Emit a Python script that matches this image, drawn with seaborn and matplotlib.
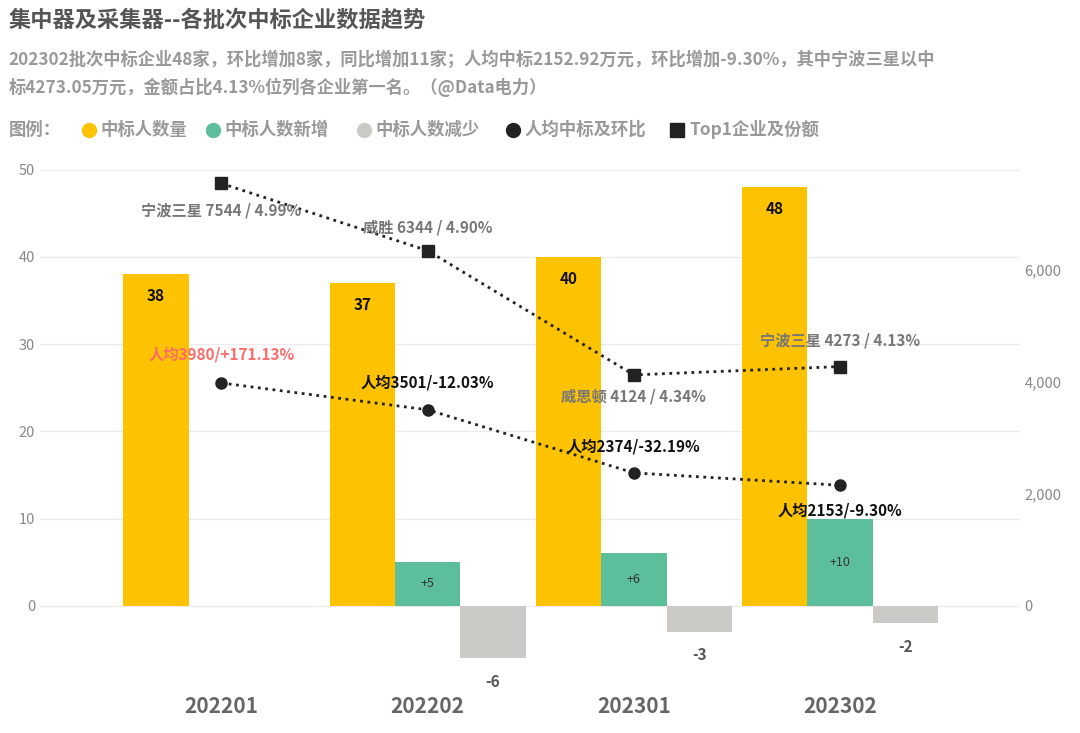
import matplotlib
matplotlib.use("Agg")
import matplotlib.pyplot as plt
import seaborn as sns
import pandas as pd
import numpy as np

periods = ["202201", "202202", "202301", "202302"]
winners = [38, 37, 40, 48]
new_w = [np.nan, 5, 6, 10]
lost_w = [np.nan, -6, -3, -2]
per_cap = [3980, 3501, 2374, 2153]
per_cap_chg = ["+171.13%", "-12.03%", "-32.19%", "-9.30%"]
top_names = ["宁波三星", "威胜", "威思顿", "宁波三星"]
top_amt = [7544, 6344, 4124, 4273]
top_share = ["4.99%", "4.90%", "4.34%", "4.13%"]

sns.set_theme(style="white")
plt.rcParams['font.family'] = ['Noto Sans CJK SC', 'DejaVu Sans']

C_Y, C_G, C_R, C_K = "#FDC200", "#5DBE9B", "#CBCAC6", "#222222"
series = ["中标人数量", "中标人数新增", "中标人数减少"]
df = pd.DataFrame({
    "period": periods * 3,
    "series": [series[0]] * 4 + [series[1]] * 4 + [series[2]] * 4,
    "value": winners + new_w + lost_w,
})

fig = plt.figure(figsize=(10.8, 7.33), dpi=100)
ax = fig.add_axes([0.037, 0.0546, 0.907, 0.7435])
sns.barplot(data=df, x="period", y="value", hue="series", hue_order=series,
            palette=[C_Y, C_G, C_R], width=0.95, ax=ax, legend=False, saturation=1,
            linewidth=0)
ax.set_xlim(-0.88, 3.87)
ax.set_ylim(-10, 52.5)
ax.set_yticks([0, 10, 20, 30, 40, 50])
ax.yaxis.grid(True, color="#EBEBEB", lw=1)
ax.set_axisbelow(True)
for s in ax.spines.values():
    s.set_visible(False)
ax.set_xlabel(""); ax.set_ylabel("")
ax.tick_params(axis="y", colors="#888888", labelsize=10.5, length=0)
ax.tick_params(axis="x", length=0, pad=2)
for t in ax.get_xticklabels():
    t.set_fontsize(15); t.set_fontweight("bold"); t.set_color("#666666")

off = 0.95 / 3
for i in range(4):
    ax.text(i - off, winners[i] - 2.5, str(winners[i]), ha="center", va="center",
            fontsize=11, fontweight="bold", color="#111111")
    if not np.isnan(new_w[i]):
        ax.text(i, new_w[i] / 2, f"+{int(new_w[i])}", ha="center", va="center",
                fontsize=9, color="#333333")
        ax.text(i + off, lost_w[i] - 2.7, str(int(lost_w[i])), ha="center", va="center",
                fontsize=11, fontweight="bold", color="#555555")

ax2 = ax.twinx()
k = 2000 / 12.84
ax2.set_ylim(-10 * k, 52.5 * k)
ax2.set_yticks([0, 2000, 4000, 6000])
ax2.set_yticklabels(["0", "2,000", "4,000", "6,000"])
ax2.tick_params(axis="y", colors="#888888", labelsize=10.5, length=0)
for s in ax2.spines.values():
    s.set_visible(False)
x = np.arange(4)
ax2.plot(x, top_amt, ls=":", lw=2, color=C_K, marker="s", ms=8)
ax2.plot(x, per_cap, ls=":", lw=2, color=C_K, marker="o", ms=8)
ax2.set_xlim(-0.88, 3.87)

top_pos = [(0, 7544 - 480), (1, 6344 + 420), (2, 4124 - 380), (3, 4273 + 460)]
for i, (xx, yy) in enumerate(top_pos):
    ax2.text(xx, yy, f"{top_names[i]} {top_amt[i]} / {top_share[i]}", ha="center",
             va="center", fontsize=11, fontweight="bold", color="#777777")
pc_pos = [(0, 4480), (1, 3980), (2, 2840), (3, 1700)]
for i, (xx, yy) in enumerate(pc_pos):
    ax2.text(xx, yy, f"人均{per_cap[i]}/{per_cap_chg[i]}", ha="center", va="center",
             fontsize=11, fontweight="bold", color="#FF6B6B" if i == 0 else "#111111")

fig.text(0.008, 0.972, "集中器及采集器--各批次中标企业数据趋势", fontsize=16,
         fontweight="bold", color="#555555", va="center")
fig.text(0.008, 0.918, "202302批次中标企业48家，环比增加8家，同比增加11家；人均中标2152.92万元，环比增加-9.30%，其中宁波三星以中",
         fontsize=12.4, fontweight="bold", color="#999999", va="center")
fig.text(0.008, 0.881, "标4273.05万元，金额占比4.13%位列各企业第一名。（@Data电力）",
         fontsize=12.4, fontweight="bold", color="#999999", va="center")

fig.text(0.008, 0.823, "图例：", fontsize=12.5, fontweight="bold", color="#999999", va="center")
items = [("o", C_Y, "中标人数量", 0.082), ("o", C_G, "中标人数新增", 0.197),
         ("o", C_R, "中标人数减少", 0.337), ("o", C_K, "人均中标及环比", 0.475),
         ("s", C_K, "Top1企业及份额", 0.627)]
for m, c, lab, xx in items:
    fig.lines.append(plt.Line2D([xx], [0.823], marker=m, color=c, ms=10, ls="",
                                transform=fig.transFigure))
    fig.text(xx + 0.011, 0.823, lab, fontsize=12.5, fontweight="bold", color="#999999", va="center")

fig.savefig("out.png", dpi=100)
